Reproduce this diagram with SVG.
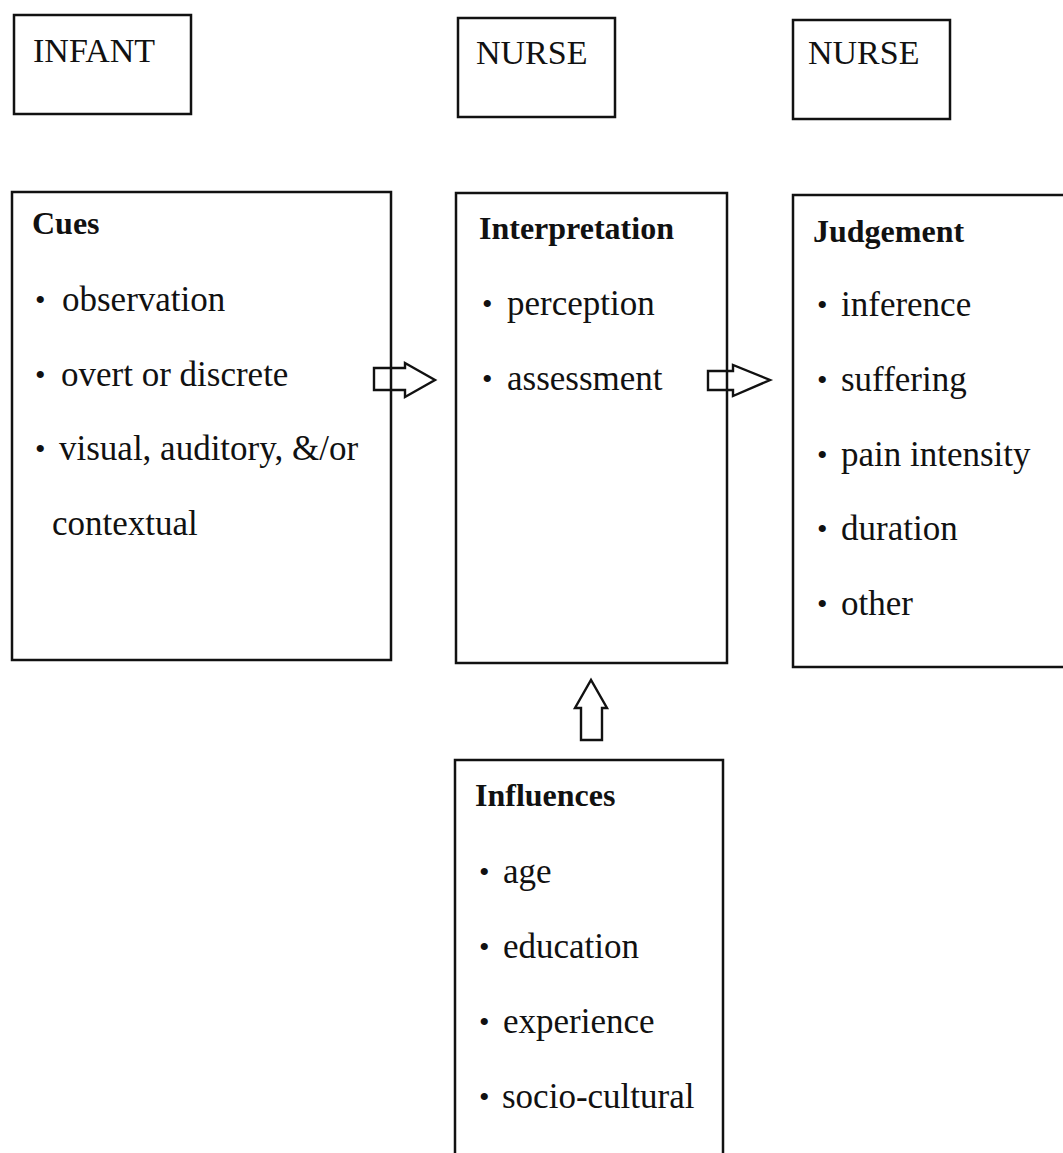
<svg xmlns="http://www.w3.org/2000/svg" width="1063" height="1153" viewBox="0 0 1063 1153">
<style>
.box{fill:none;stroke:#111;stroke-width:2.5}
.arr{fill:none;stroke:#111;stroke-width:2.4;stroke-linejoin:miter}
text{font-family:"Liberation Serif","Times New Roman",serif;fill:#111}
.lbl{font-size:34px}
.hd{font-size:32px;font-weight:bold}
.it{font-size:35px}
.bu{font-size:30px}
</style>
<rect width="1063" height="1153" fill="#fff"/>
<g id="infant">
<rect class="box" x="14" y="15" width="177" height="99"/>
<text class="lbl" x="33" y="62">INFANT</text>
</g>
<g id="nurse1">
<rect class="box" x="458" y="18" width="157" height="99"/>
<text class="lbl" x="476" y="64">NURSE</text>
</g>
<g id="nurse2">
<rect class="box" x="793" y="20" width="157" height="99"/>
<text class="lbl" x="808" y="64">NURSE</text>
</g>
<g id="cues">
<rect class="box" x="12" y="192" width="379" height="468"/>
<text class="hd" x="32" y="234">Cues</text>
<text class="bu" x="35" y="310">•</text><text class="it" x="62" y="311">observation</text>
<text class="bu" x="35" y="385">•</text><text class="it" x="61" y="386">overt or discrete</text>
<text class="bu" x="35" y="459">•</text><text class="it" x="59" y="460">visual, auditory, &amp;/or</text>
<text class="it" x="52" y="535">contextual</text>
</g>
<g id="interpretation">
<rect class="box" x="456" y="193" width="271" height="470"/>
<text class="hd" x="479" y="239">Interpretation</text>
<text class="bu" x="482" y="314">•</text><text class="it" x="507" y="315">perception</text>
<text class="bu" x="482" y="389">•</text><text class="it" x="507" y="390">assessment</text>
</g>
<g id="judgement">
<rect class="box" x="793" y="195" width="280" height="472"/>
<text class="hd" x="813" y="242">Judgement</text>
<text class="bu" x="817" y="315">•</text><text class="it" x="841" y="316">inference</text>
<text class="bu" x="817" y="390">•</text><text class="it" x="841" y="391">suffering</text>
<text class="bu" x="817" y="465">•</text><text class="it" x="841" y="466">pain intensity</text>
<text class="bu" x="817" y="539">•</text><text class="it" x="841" y="540">duration</text>
<text class="bu" x="817" y="614">•</text><text class="it" x="841" y="615">other</text>
</g>
<g id="influences">
<rect class="box" x="455" y="760" width="268" height="410"/>
<text class="hd" x="475" y="806">Influences</text>
<text class="bu" x="479" y="882">•</text><text class="it" x="503" y="883">age</text>
<text class="bu" x="479" y="957">•</text><text class="it" x="503" y="958">education</text>
<text class="bu" x="479" y="1032">•</text><text class="it" x="503" y="1033">experience</text>
<text class="bu" x="479" y="1107">•</text><text class="it" x="502" y="1108">socio-cultural</text>
</g>
<g id="connectors">
<path class="arr" d="M374,368 H405 V363 L435,380 L405,397 V390 H374 Z"/>
<path class="arr" d="M708,371 H733 V365 L770,380 L733,396 V390 H708 Z"/>
<path class="arr" d="M581,740 V708 H575 L591,680 L607,708 H602 V740 Z"/>
</g>
</svg>
